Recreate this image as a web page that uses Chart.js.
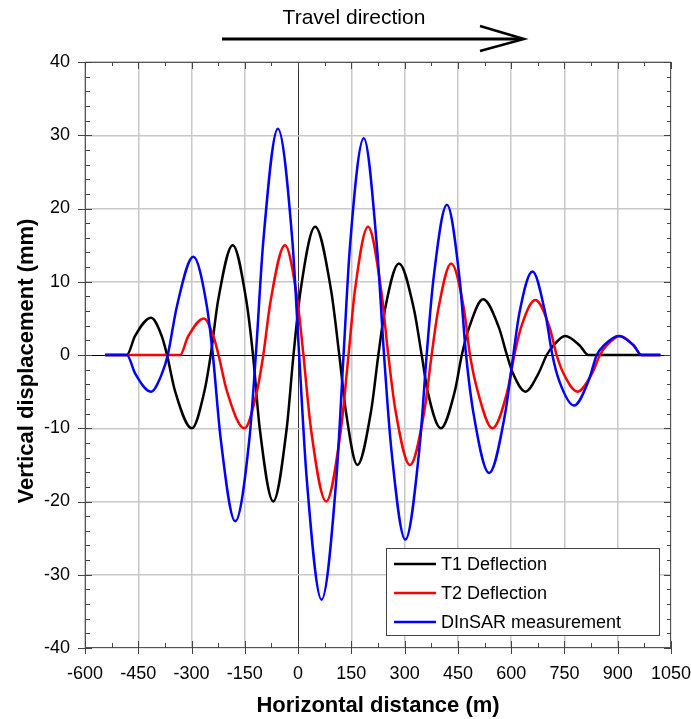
<!DOCTYPE html>
<html>
<head>
<meta charset="utf-8">
<script src="https://cdn.jsdelivr.net/npm/chart.js@4.4.0/dist/chart.umd.min.js"></script>
<style>
  html, body { margin: 0; padding: 0; background: #fff; }
  #wrap { width: 691px; height: 719px; }
</style>
</head>
<body>
<div id="wrap"><canvas id="chart" width="691" height="719"></canvas></div>
<script>
// Datos (x en m, y en mm)
const t1X = [-543, -482, -459, -414, -384, -369, -346, -299, -264, -246, -225, -184, -146, -127, -108, -70, -32, -13, 7, 48, 93, 116, 134, 167, 206, 226, 245, 284, 326, 348, 365, 402, 441, 461, 482, 521, 565, 588, 605, 640, 677, 700, 719, 752, 793, 817, 967, 1020];
const t1Y = [0, 0, 2.6, 5.1, 2.6, 0, -5, -10, -5, 0, 7.5, 15, 7.5, 0, -10, -20, -10, 0, 8.8, 17.5, 8.8, 0, -7.5, -15, -7.5, 0, 6.3, 12.5, 6.3, 0, -5, -10, -5, 0, 3.8, 7.6, 3.8, 0, -2.5, -5, -2.5, 0, 1.3, 2.6, 1.3, 0, 0, 0];

const t2X = [-543, -482, -332, -310, -265, -238, -224, -200, -151, -116, -98, -77, -37, -2, 15, 36, 79, 121, 142, 160, 197, 234, 254, 274, 315, 356, 376, 395, 431, 467, 484, 506, 547, 589, 609, 628, 668, 708, 728, 747, 787, 828, 850, 869, 906, 945, 967, 1020];
const t2Y = [0, 0, 0, 2.5, 5, 2.5, 0, -5, -10, -5, 0, 7.5, 15, 7.5, 0, -10, -20, -10, 0, 8.8, 17.5, 8.8, 0, -7.5, -15, -7.5, 0, 6.3, 12.5, 6.3, 0, -5, -10, -5, 0, 3.8, 7.5, 3.8, 0, -2.5, -5, -2.5, 0, 1.3, 2.6, 1.3, 0, 0];

const insarX = [-543, -482, -459, -414, -383, -367, -341, -295, -257, -240, -218, -177, -137, -119, -98, -57, -16, 3, 24, 66, 108, 128, 146, 185, 222, 242, 262, 302, 342, 362, 381, 419, 455, 473, 494, 538, 583, 606, 623, 660, 696, 716, 735, 777, 818, 841, 861, 903, 945, 967, 1020];
const insarY = [0, 0, -2.5, -5, -2.5, 0, 6.7, 13.4, 6.7, 0, -11.4, -22.7, -11.4, 0, 15.5, 30.9, 15.5, 0, -16.7, -33.4, -16.7, 0, 14.8, 29.6, 14.8, 0, -12.6, -25.2, -12.6, 0, 10.3, 20.5, 10.3, 0, -8, -16.1, -8, 0, 5.7, 11.4, 5.7, 0, -3.5, -6.9, -3.5, 0, 1.3, 2.6, 1.3, 0, 0];

const seriesNames = ['T1 Deflection', 'T2 Deflection', 'DInSAR measurement'];
const xTicks = [-600, -450, -300, -150, 0, 150, 300, 450, 600, 750, 900, 1050];
const yTicks = [-40, -30, -20, -10, 0, 10, 20, 30, 40];

function toPoints(xs, ys) {
  return xs.map((x, i) => ({ x: x, y: ys[i] }));
}

const FONT = '"Liberation Sans", Arial, sans-serif';

// Ejes, marcas internas, leyenda y flecha de dirección
const decorPlugin = {
  id: 'decor',
  afterDraw(chart) {
    const ctx = chart.ctx;
    const a = chart.chartArea;
    const xs = chart.scales.x;
    const ys = chart.scales.y;
    ctx.save();

    // marco
    ctx.strokeStyle = '#555';
    ctx.lineWidth = 1;
    ctx.strokeRect(a.left + 0.5, a.top + 0.5, a.right - a.left - 1, a.bottom - a.top - 1);

    // marcas
    ctx.beginPath();
    for (let v = -600; v <= 1050; v += 75) {
      const px = Math.round(xs.getPixelForValue(v)) + 0.5;
      const major = v % 150 === 0;
      const len = major ? 7 : 5;
      ctx.moveTo(px, a.bottom + (major ? 6 : 0));
      ctx.lineTo(px, a.bottom - len);
      ctx.moveTo(px, a.top);
      ctx.lineTo(px, a.top + (major ? 7 : 4));
    }
    for (let v = -40; v <= 40; v += 2) {
      const py = Math.round(ys.getPixelForValue(v)) + 0.5;
      const major = v % 10 === 0;
      ctx.moveTo(a.left - (major ? 7 : 0), py);
      ctx.lineTo(a.left + (major ? 7 : 5), py);
      ctx.moveTo(a.right, py);
      ctx.lineTo(a.right - (major ? 7 : 4), py);
    }
    ctx.strokeStyle = '#444';
    ctx.stroke();

    // títulos de ejes
    ctx.fillStyle = '#000';
    ctx.font = 'bold 22px ' + FONT;
    ctx.textAlign = 'center';
    ctx.textBaseline = 'middle';
    ctx.fillText('Horizontal distance (m)', (a.left + a.right) / 2, 706);
    ctx.save();
    ctx.translate(27, (a.top + a.bottom) / 2 + 6);
    ctx.rotate(-Math.PI / 2);
    ctx.fillText('Vertical displacement (mm)', 0, 0);
    ctx.restore();

    // flecha de dirección
    ctx.font = '21px ' + FONT;
    ctx.fillText('Travel direction', 354, 18);
    ctx.lineWidth = 3;
    ctx.strokeStyle = '#000';
    ctx.beginPath();
    ctx.moveTo(222, 39);
    ctx.lineTo(522, 39);
    ctx.stroke();
    ctx.lineWidth = 2.5;
    ctx.beginPath();
    ctx.moveTo(480, 26);
    ctx.lineTo(524, 39);
    ctx.lineTo(480, 51);
    ctx.stroke();

    // leyenda
    const bw = 273, bh = 87;
    const bx = a.right - 12 - bw, by = a.bottom - 13 - bh;
    ctx.fillStyle = '#fff';
    ctx.fillRect(bx, by, bw, bh);
    ctx.strokeStyle = '#444';
    ctx.lineWidth = 1;
    ctx.strokeRect(bx + 0.5, by + 0.5, bw, bh);
    ctx.font = '18px ' + FONT;
    ctx.textAlign = 'left';
    chart.data.datasets.forEach((ds, i) => {
      const yy = by + 16 + i * 29;
      ctx.strokeStyle = ds.borderColor;
      ctx.lineWidth = 2.5;
      ctx.beginPath();
      ctx.moveTo(bx + 8, yy);
      ctx.lineTo(bx + 50, yy);
      ctx.stroke();
      ctx.fillStyle = '#000';
      ctx.fillText(ds.label, bx + 55, yy + 1);
    });
    ctx.restore();
  }
};

const lineStyle = {
  fill: false,
  pointRadius: 0,
  borderWidth: 2.5,
  cubicInterpolationMode: 'monotone'
};

new Chart(document.getElementById('chart'), {
  type: 'line',
  data: {
    datasets: [
      Object.assign({ label: seriesNames[0], data: toPoints(t1X, t1Y), borderColor: '#000000', order: 3 }, lineStyle),
      Object.assign({ label: seriesNames[1], data: toPoints(t2X, t2Y), borderColor: '#ff0000', order: 2 }, lineStyle),
      Object.assign({ label: seriesNames[2], data: toPoints(insarX, insarY), borderColor: '#0000ff', order: 1 }, lineStyle)
    ]
  },
  options: {
    responsive: false,
    animation: false,
    layout: { padding: { top: 62, right: 20, left: 0, bottom: 0 } },
    plugins: {
      legend: { display: false },
      tooltip: { enabled: false }
    },
    scales: {
      x: {
        type: 'linear',
        min: -600,
        max: 1050,
        afterBuildTicks: s => { s.ticks = xTicks.map(v => ({ value: v })); },
        afterFit: s => { s.height = 71; s.paddingLeft = 0; s.paddingRight = 0; },
        border: { display: false },
        grid: {
          drawTicks: false,
          color: c => (c.tick && c.tick.value === 0) ? '#333' : '#c8c8c8',
          lineWidth: c => (c.tick && c.tick.value === 0) ? 1 : 1.5
        },
        ticks: {
          padding: 15,
          color: '#000',
          font: { family: FONT, size: 18 },
          callback: v => String(v)
        }
      },
      y: {
        min: -40,
        max: 40,
        afterBuildTicks: s => { s.ticks = yTicks.map(v => ({ value: v })); },
        afterFit: s => { s.width = 85; s.paddingTop = 0; s.paddingBottom = 0; },
        border: { display: false },
        grid: {
          drawTicks: false,
          color: c => (c.tick && c.tick.value === 0) ? '#000' : '#c8c8c8',
          lineWidth: c => (c.tick && c.tick.value === 0) ? 1 : 1.5
        },
        ticks: {
          padding: 15,
          color: '#000',
          font: { family: FONT, size: 18 },
          callback: v => String(v)
        }
      }
    }
  },
  plugins: [decorPlugin]
});
</script>
</body>
</html>
